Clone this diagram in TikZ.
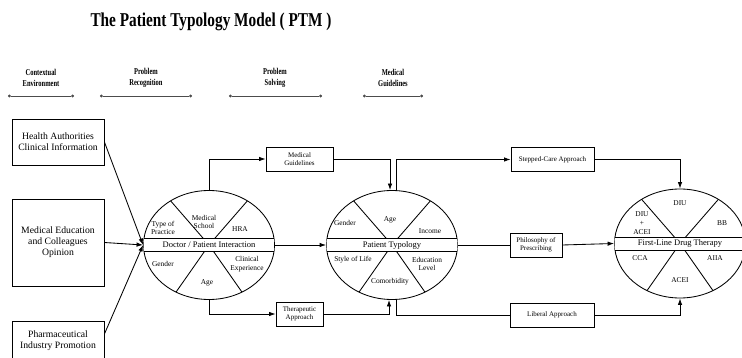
\documentclass[tikz,border=0pt]{standalone}
\usepackage{fontspec}
\setmainfont{Liberation Serif}
\usetikzlibrary{shapes.geometric,arrows.meta}
\tikzset{
  ttl/.style={font=\bfseries\fontsize{19.6}{22}\selectfont,xscale=0.78},
  hdr/.style={font=\bfseries\fontsize{9}{11}\selectfont,xscale=0.72,align=center},
  hdrline/.style={{Circle[length=2.8pt]}-{Circle[length=2.8pt]},line width=0.5pt,black!70},
  srcbox/.style={draw,minimum width=92pt,align=center,inner sep=1pt,font=\fontsize{9.7}{11}\selectfont},
  gbox/.style={draw,minimum height=24pt,align=center,inner sep=1pt,font=\fontsize{7}{8.5}\selectfont},
  oval/.style={draw,ellipse,minimum width=131pt,minimum height=109pt,inner sep=0pt},
  band/.style={font=\fontsize{8.5}{10}\selectfont,inner sep=0pt},
  sect/.style={font=\fontsize{7.4}{8.7}\selectfont,align=center,inner sep=0pt}
}
\begin{document}
\begin{tikzpicture}[x=1pt,y=-1pt,>={Latex[length=6.5pt,width=4.5pt]},line width=0.85pt]
\useasboundingbox (0,0) rectangle (742,358);
\clip (0,0) rectangle (742,358);
% title
\node[ttl] (title) at (211,22) {The Patient Typology Model ( PTM )};
% stages
\node[hdr] (hce) at (41,78) {Contextual\\Environment};
\node[hdr] (hpr) at (146,78) {Problem\\Recognition};
\node[hdr] (hps) at (275,78) {Problem\\Solving};
\node[hdr] (hmg) at (393,78) {Medical\\Guidelines};
\draw[hdrline] (8,96) -- (74,96);
\draw[hdrline] (100,96) -- (192,96);
\draw[hdrline] (229,96) -- (322,96);
\draw[hdrline] (363,96) -- (423,96);
% contextual environment
\node[srcbox,minimum height=46pt] (hac) at (58,142) {Health Authorities\\Clinical Information};
\node[srcbox,minimum height=87pt] (mec) at (58,242.5) {Medical Education\\and Colleagues\\Opinion};
\node[srcbox,minimum height=40pt] (pip) at (58,341) {Pharmaceutical\\Industry Promotion};
% the three ovals
\node[oval] (dpi) at (209,245) {};
\node[oval] (ptm) at (392,245) {};
\node[oval] (fld) at (680,243.5) {};
\begin{scope}
  \clip (dpi.center) ellipse [x radius=65.5, y radius=54.5];
  \draw (dpi.center) -- (dpi.131) (dpi.center) -- (dpi.49) (dpi.center) -- (dpi.235) (dpi.center) -- (dpi.305);
  \fill[white] ([yshift=6.5pt]dpi.west) rectangle ([yshift=-6.5pt]dpi.east);
  \draw ([yshift=6.5pt]dpi.west) -- ([yshift=6.5pt]dpi.east) ([yshift=-6.5pt]dpi.west) -- ([yshift=-6.5pt]dpi.east);
\end{scope}
\begin{scope}
  \clip (ptm.center) ellipse [x radius=65.5, y radius=54.5];
  \draw (ptm.center) -- (ptm.131) (ptm.center) -- (ptm.49) (ptm.center) -- (ptm.235) (ptm.center) -- (ptm.305);
  \fill[white] ([yshift=6.5pt]ptm.west) rectangle ([yshift=-6.5pt]ptm.east);
  \draw ([yshift=6.5pt]ptm.west) -- ([yshift=6.5pt]ptm.east) ([yshift=-6.5pt]ptm.west) -- ([yshift=-6.5pt]ptm.east);
\end{scope}
\begin{scope}
  \clip (fld.center) ellipse [x radius=65.5, y radius=54.5];
  \draw (fld.center) -- (fld.131) (fld.center) -- (fld.49) (fld.center) -- (fld.235) (fld.center) -- (fld.305);
  \fill[white] ([yshift=6.5pt]fld.west) rectangle ([yshift=-6.5pt]fld.east);
  \draw ([yshift=6.5pt]fld.west) -- ([yshift=6.5pt]fld.east) ([yshift=-6.5pt]fld.west) -- ([yshift=-6.5pt]fld.east);
\end{scope}
% problem recognition
\node[band] (dpil) at (dpi.center) {Doctor / Patient Interaction};
\node[sect] (tp) at (163,228) {Type of\\Practice};
\node[sect] (ms) at (204,222) {Medical\\School};
\node[sect] (hra) at (240,229) {HRA};
\node[sect] (dg) at (163,264) {Gender};
\node[sect] (ce) at (247,264) {Clinical\\Experience};
\node[sect] (da) at (207,283) {Age};
% problem solving
\node[band] (ptml) at (ptm.center) {Patient Typology};
\node[sect] (pg) at (345,223) {Gender};
\node[sect] (pa) at (390,220) {Age};
\node[sect] (inc) at (430,231) {Income};
\node[sect] (sol) at (353,260) {Style of Life};
\node[sect] (edl) at (427,264) {Education\\Level};
\node[sect] (com) at (390,282) {Comorbidity};
% drug therapy
\node[band] (fldl) at (fld.center) {First-Line Drug Therapy};
\node[sect] (da1) at (642,223) {DIU\\+\\ACEI};
\node[sect] (diu) at (680,203) {DIU};
\node[sect] (bb) at (722,223) {BB};
\node[sect] (cca) at (640,258) {CCA};
\node[sect] (acei) at (680,280) {ACEI};
\node[sect] (aiia) at (715,258) {AIIA};
% guidelines
\node[gbox,minimum width=67pt] (mg) at (299.5,159) {Medical\\Guidelines};
\node[gbox,minimum width=47pt] (tha) at (299.5,314) {Therapeutic\\Approach};
\node[gbox,minimum width=83pt] (sca) at (552.5,159.5) {Stepped-Care Approach};
\node[gbox,minimum width=52pt] (pop) at (536,245) {Philosophy of\\Prescribing};
\node[gbox,minimum width=84pt] (lib) at (552,315) {Liberal Approach};
% connectors
\draw[->] (hac.east) -- (dpi.west);
\draw[->] (mec.east) -- (dpi.west);
\draw[->] ([yshift=7pt]pip.east) -- (dpi.west);
\draw[->] (dpi.east) -- (ptm.west);
\draw (ptm.east) -- (pop.west);
\draw[->] (pop.east) -- (fld.west);
\draw[->] (dpi.north) |- (mg.west);
\draw[->] (mg.east) -| ([xshift=-2pt]ptm.north);
\draw[->] ([xshift=4pt]ptm.north) |- (sca.west);
\draw[->] (sca.east) -| (fld.north);
\draw[->] (dpi.south) |- (tha.west);
\draw[->] (tha.east) -| ([xshift=-3pt]ptm.south);
\draw ([xshift=4pt]ptm.south) |- (lib.west);
\draw[->] (lib.east) -| (fld.south);
\end{tikzpicture}
\end{document}
